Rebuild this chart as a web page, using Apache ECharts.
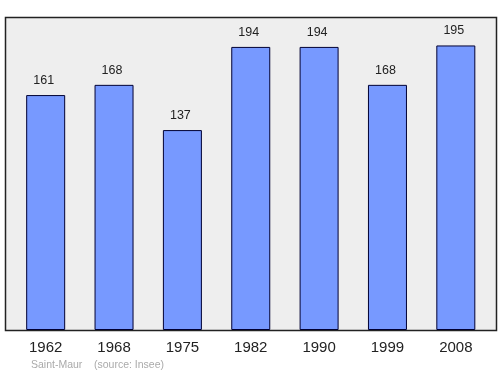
<!DOCTYPE html>
<html><head><meta charset="utf-8">
<script src="https://cdn.jsdelivr.net/npm/echarts@6/dist/echarts.min.js"></script>
<style>html,body{margin:0;padding:0;background:#fff}#c{width:500px;height:374px}</style>
</head><body><div id="c"></div>
<script>
const years = ['1962','1968','1975','1982','1990','1999','2008'];
const population = [161,168,137,194,194,168,195];
const footer = 'Saint-Maur    (source: Insee)';

const chart = echarts.init(document.getElementById('c'), null, {renderer:'canvas'});
chart.setOption({
  animation:false,
  backgroundColor:'#ffffff',
  graphic:[
    {type:'rect', z:-10, shape:{x:5.5,y:17.5,width:491,height:313}, style:{fill:'#eeeeee', stroke:'#222222', lineWidth:1.5}},
    {type:'text', left:31, top:360, style:{text:footer, fill:'#aaaaaa', font:'10.5px "Liberation Sans", Arial, sans-serif'}}
  ],
  grid:{left:11.5, right:10, top:17, bottom:44},
  xAxis:{type:'category', data:years,
    axisLine:{show:false}, axisTick:{show:false},
    axisLabel:{fontSize:15, color:'#222', margin:10, fontFamily:'"Liberation Sans", Arial, sans-serif'}},
  yAxis:{type:'value', min:0, max:214.5, show:false, splitLine:{show:false}},
  series:[{type:'bar', data:population, barWidth:39,
    itemStyle:{color:'#7799ff', borderColor:'#000033', borderWidth:1},
    label:{show:true, position:'top', distance:8, offset:[-2,0], fontSize:12.5, color:'#222', fontFamily:'"Liberation Sans", Arial, sans-serif'}}]
});
</script></body></html>
